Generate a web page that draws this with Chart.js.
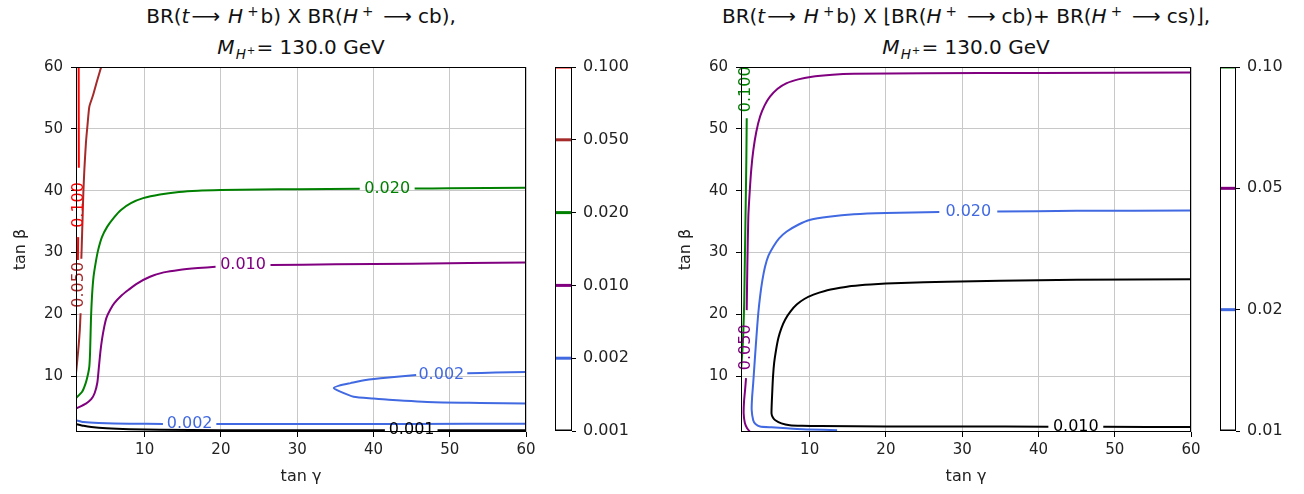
<!DOCTYPE html>
<html>
<head>
<meta charset="utf-8">
<script src="https://cdn.jsdelivr.net/npm/chart.js@4"></script>
<style>
  body { margin: 0; background: #fff; width: 1304px; height: 494px; position: relative; overflow: hidden;
         font-family: "DejaVu Sans", sans-serif; color: #111; }
  canvas { position: absolute; top: 0; }
  .title { position: absolute; width: 600px; text-align: center; white-space: nowrap; font-size: 20px; line-height: 22px; }
  .title sup, .title sub { font-size: 68%; vertical-align: 0; position: relative; line-height: 0; }
  .title sup { top: -0.55em; margin: 0 2px 0 4px; }
  .title sub { top: 0.35em; margin-left: 1px; }
  .title sub sup { font-size: 75%; top: -0.5em; margin: 0 1px; }
  .ar { margin: 0 8px 0 2px; }
  .ar2 { margin: 0 6px 0 8px; }
</style>
</head>
<body>
<div class="title" style="left:1px;top:5px">BR(<i>t</i><span class="ar">⟶</span><i>H</i><sup>+</sup>b) X BR(<i>H</i><sup>+</sup><span class="ar2">⟶</span>cb),</div>
<div class="title" style="left:1px;top:36px"><i>M</i><sub><i>H</i><sup>+</sup></sub>= 130.0 GeV</div>
<div class="title" style="left:666px;top:5px">BR(<i>t</i><span class="ar">⟶</span><i>H</i><sup>+</sup>b) X ⌊BR(<i>H</i><sup>+</sup><span class="ar2">⟶</span>cb)+ BR(<i>H</i><sup>+</sup><span class="ar2">⟶</span>cs)⌋,</div>
<div class="title" style="left:666px;top:36px"><i>M</i><sub><i>H</i><sup>+</sup></sub>= 130.0 GeV</div>

<canvas id="leftChart" width="545" height="494" style="left:0"></canvas>
<canvas id="leftBar" width="100" height="494" style="left:540px"></canvas>
<canvas id="rightChart" width="545" height="494" style="left:665px"></canvas>
<canvas id="rightBar" width="99" height="494" style="left:1205px"></canvas>

<script>
// contour levels (colorbar tick labels)
const leftLevels = ['0.001', '0.002', '0.010', '0.020', '0.050', '0.100'];
const rightLevels = ['0.01', '0.02', '0.05', '0.10'];
// the inline labels of the right panel keep three decimals
const rightLabelTexts = ['0.010', '0.020', '0.050', '0.100'];
const axisTicks = [10, 20, 30, 40, 50, 60];

// left panel contours, points are [tanγ, tanβ], split where the label sits
const left001a = [[1, 2.3], [2, 2.0], [3, 1.8], [5, 1.6], [8, 1.45], [12, 1.35], [20, 1.3], [30, 1.28], [41.5, 1.27]];
const left001b = [[48.4, 1.27], [60, 1.27]];
const left002a = [[1, 2.9], [2, 2.6], [4, 2.45], [8, 2.35], [12.4, 2.3]];
const left002b = [[19.4, 2.3], [30, 2.3], [45, 2.3], [60, 2.35]];
const left002c = [[60, 10.7], [56, 10.6], [52.3, 10.5]];
const left002d = [[45.6, 10.2], [42, 9.8], [39, 9.4], [37, 8.9], [35.5, 8.5], [34.8, 8.1], [35.5, 7.6], [37.4, 6.7],
                  [40, 6.4], [42, 6.2], [48, 5.8], [54, 5.7], [60, 5.6]];
const left010a = [[1, 4.8], [2.3, 5.6], [3.0, 6.3], [3.45, 7.3], [3.8, 9.0], [4.0, 11.5], [4.2, 14], [4.4, 15.9], [4.7, 18],
                  [5.0, 19.5], [5.5, 20.8], [6.0, 21.8], [7, 23.1], [7.9, 24], [9, 25], [10.7, 26.1], [12.5, 26.8],
                  [14.5, 27.2], [17, 27.5], [19.3, 27.7]];
const left010b = [[26.5, 28.0], [35, 28.1], [45, 28.2], [60, 28.4]];
const left020a = [[1, 6.5], [1.8, 7.5], [2.27, 8.9], [2.6, 10.5], [2.75, 11.6], [2.85, 14], [2.97, 19.6], [3.1, 23],
                  [3.3, 26.1], [3.6, 28.5], [3.9, 30.4], [4.4, 32.5], [5.1, 34.2], [6, 35.7], [6.9, 36.9], [8.2, 38],
                  [9.8, 38.8], [12, 39.4], [14.5, 39.8], [17, 40.0], [20, 40.1], [25, 40.2], [30, 40.25], [38.2, 40.3]];
const left020b = [[45.4, 40.35], [50, 40.4], [60, 40.5]];
const left050a = [[4.3, 60], [3.7, 57.5], [3.2, 55.3], [2.75, 53.6], [2.5, 50.5], [2.3, 47.7], [2.1, 43.5], [1.96, 39.6],
                  [1.85, 35], [1.75, 31], [1.7, 29]];
const left050b = [[1.6, 20.2], [1.5, 17.5], [1.35, 15], [1.2, 13], [1.09, 11.6], [1.0, 10.5]];
const left100a = [[1.35, 60], [1.37, 43.7]];
const left100b = [[1.28, 32.5], [1.25, 28.8]];
// [level index, x, y, vertical]
const leftLabels = [[0, 45, 1.3, false], [1, 15.9, 2.3, false], [1, 48.9, 10.3, false], [2, 22.9, 28.0, false],
                    [3, 41.8, 40.3, false], [4, 1.35, 24.8, true], [5, 1.33, 37.7, true]];

// right panel contours
const right01a = [[60, 25.7], [45, 25.6], [35, 25.45], [28, 25.3], [22, 25.1], [18, 24.85], [15.5, 24.6], [14, 24.3],
                  [12, 23.8], [10.5, 23.2], [9.3, 22.5], [8.3, 21.6], [7.5, 20.5], [6.8, 19.2], [6.3, 17.8], [5.9, 16.2],
                  [5.6, 14.3], [5.35, 12.2], [5.2, 10], [5.1, 7.5], [5.0, 4.0], [5.2, 3.3], [5.5, 2.9], [6.3, 2.4],
                  [7.4, 2.1], [9, 2.0], [11.4, 1.95], [20, 1.9], [30, 1.88], [41.3, 1.86]];
const right01b = [[48.5, 1.85], [60, 1.8]];
const right02a = [[13.6, 1.3], [10, 1.4], [7.0, 1.6], [5, 1.75], [3.5, 1.9], [2.9, 2.3], [2.6, 2.9], [2.4, 4.6], [2.45, 6.5],
                  [2.6, 8.9], [2.8, 12.5], [3.06, 17], [3.25, 20], [3.5, 22.9], [3.8, 25.5], [4.15, 27.7], [4.6, 29.5],
                  [5.25, 31], [6, 32.3], [7.0, 33.4], [8.5, 34.5], [10.1, 35.3], [12.5, 35.8], [15.8, 36.2], [20, 36.4],
                  [27.0, 36.55]];
const right02b = [[34.6, 36.65], [45, 36.75], [60, 36.8]];
const right05a = [[2.2, 1.0], [1.8, 1.6], [1.5, 2.5], [1.35, 4.0], [1.4, 6], [1.55, 8], [1.66, 9.7]];
const right05b = [[1.75, 20.7], [1.83, 27.7], [1.96, 35.8], [2.15, 40], [2.35, 43.5], [2.62, 46.6], [3.0, 49.5], [3.5, 52],
                  [4.1, 53.8], [4.8, 55.2], [5.8, 56.5], [7.0, 57.4], [8.5, 58], [10.1, 58.4], [13, 58.75], [15.8, 58.9],
                  [25, 59.0], [40, 59.05], [60, 59.1]];
const right10a = [[1.75, 51.7], [1.7, 45], [1.62, 38], [1.52, 30], [1.42, 22], [1.3, 17], [1.15, 13.5], [1.0, 11]];
const rightLabels = [[0, 44.9, 1.86, false], [1, 30.8, 36.6, false], [2, 1.57, 14.7, true], [3, 1.66, 56.4, true]];

const levelColors = ['black', 'royalblue', 'purple', 'green', 'brown', 'red'];

Chart.defaults.font.family = '"DejaVu Sans", sans-serif';
Chart.defaults.font.size = 15;
Chart.defaults.color = '#222';

// black frame round the plot area
const framePlugin = {
    id: 'frame',
    afterDraw(chart) {
        const a = chart.chartArea;
        const ctx = chart.ctx;
        ctx.save();
        ctx.strokeStyle = '#000';
        ctx.lineWidth = 1;
        ctx.strokeRect(Math.round(a.left) + 0.5, Math.round(a.top) + 0.5,
            Math.round(a.right - a.left) - 1, Math.round(a.bottom - a.top) - 1);
        ctx.restore();
    }
};

// inline contour labels
const labelPlugin = {
    id: 'contourLabels',
    afterDatasetsDraw(chart, args, opts) {
        const ctx = chart.ctx;
        const xs = chart.scales.x, ys = chart.scales.y;
        ctx.save();
        ctx.font = '16px "DejaVu Sans"';
        ctx.textAlign = 'center';
        ctx.textBaseline = 'middle';
        opts.items.forEach(([lev, x, y, vert]) => {
            ctx.save();
            ctx.translate(xs.getPixelForValue(x), ys.getPixelForValue(y));
            if (vert) ctx.rotate(-Math.PI / 2);
            ctx.fillStyle = levelColors[lev];
            ctx.fillText(opts.texts[lev], 0, 0);
            ctx.restore();
        });
        ctx.restore();
    }
};

function seg(points, lev) {
    return {
        data: points.map(p => ({ x: p[0], y: p[1] })),
        borderColor: levelColors[lev],
        borderWidth: 2,
        pointRadius: 0,
        showLine: true,
        tension: 0.2,
        fill: false
    };
}

function fixedTicks(scale) {
    scale.ticks = axisTicks.map(v => ({ value: v }));
}

function contourChart(canvas, datasets, labels, texts) {
    return new Chart(canvas, {
        type: 'scatter',
        data: { datasets: datasets },
        plugins: [framePlugin, labelPlugin],
        options: {
            responsive: false,
            animation: false,
            events: [],
            layout: { padding: { top: 67, right: 19, bottom: 0, left: 0 } },
            plugins: {
                legend: { display: false },
                tooltip: { enabled: false },
                contourLabels: { items: labels, texts: texts }
            },
            scales: {
                x: {
                    type: 'linear', min: 1, max: 60,
                    afterBuildTicks: fixedTicks,
                    afterFit: s => { s.height = 62; },
                    grid: { color: '#c8c8c8', lineWidth: 1, tickColor: '#000', tickLength: 5 },
                    border: { display: false },
                    ticks: { padding: 4, maxRotation: 0 },
                    title: { display: true, text: 'tan γ', font: { size: 16 }, padding: { top: 0, bottom: 8 } }
                },
                y: {
                    type: 'linear', min: 1, max: 60,
                    afterBuildTicks: fixedTicks,
                    afterFit: s => { s.width = 76; },
                    grid: { color: '#c8c8c8', lineWidth: 1, tickColor: '#000', tickLength: 5 },
                    border: { display: false },
                    ticks: { padding: 8 },
                    title: { display: true, text: 'tan β', font: { size: 16 }, padding: { top: 11, bottom: 0 } }
                }
            }
        }
    });
}

function colorbar(canvas, levels, width) {
    const n = levels.length;
    return new Chart(canvas, {
        type: 'scatter',
        data: {
            datasets: levels.map((l, i) => ({
                data: [{ x: 0, y: i }, { x: 1, y: i }],
                borderColor: levelColors[i],
                borderWidth: 3,
                pointRadius: 0,
                showLine: true
            }))
        },
        plugins: [framePlugin],
        options: {
            responsive: false,
            animation: false,
            events: [],
            layout: { padding: { top: 67, right: 0, bottom: 63, left: 15 } },
            plugins: { legend: { display: false }, tooltip: { enabled: false } },
            scales: {
                x: { type: 'linear', min: 0, max: 1, display: false },
                y: {
                    type: 'linear', position: 'right', min: 0, max: n - 1,
                    afterBuildTicks: s => { s.ticks = levels.map((l, i) => ({ value: i })); },
                    afterFit: s => { s.width = width; },
                    grid: { display: true, drawOnChartArea: false, tickColor: '#000', tickLength: 4 },
                    border: { display: false },
                    ticks: { padding: 7, font: { size: 16 }, callback: v => levels[v] }
                }
            }
        }
    });
}

contourChart(document.getElementById('leftChart'), [
    seg(left001a, 0), seg(left001b, 0),
    seg(left002a, 1), seg(left002b, 1), seg(left002c, 1), seg(left002d, 1),
    seg(left010a, 2), seg(left010b, 2),
    seg(left020a, 3), seg(left020b, 3),
    seg(left050a, 4), seg(left050b, 4),
    seg(left100a, 5), seg(left100b, 5)
], leftLabels, leftLevels);

contourChart(document.getElementById('rightChart'), [
    seg(right01a, 0), seg(right01b, 0),
    seg(right02a, 1), seg(right02b, 1),
    seg(right05a, 2), seg(right05b, 2),
    seg(right10a, 3)
], rightLabels, rightLabelTexts);

colorbar(document.getElementById('leftBar'), leftLevels, 68);
colorbar(document.getElementById('rightBar'), rightLevels, 68);
</script>
</body>
</html>
